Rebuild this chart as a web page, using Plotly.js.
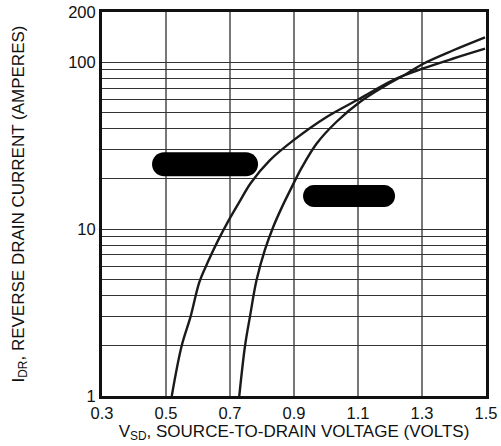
<!DOCTYPE html>
<html><head><meta charset="utf-8">
<script src="https://cdn.plot.ly/plotly-3.0.1.min.js"></script>
<style>html,body{margin:0;padding:0;background:#fff}#chart{width:501px;height:446px}</style>
</head><body><div id="chart"></div>
<script>
// Curve 1 (left)
var vsdA = [0.518, 0.549, 0.577, 0.604, 0.630, 0.662, 0.695, 0.728, 0.765, 0.825, 0.898, 1.002, 1.106, 1.210, 1.304, 1.398, 1.497];
var idrA = [1.0, 2.0, 3.0, 4.8, 6.3, 8.5, 11.2, 14.4, 18.9, 25.9, 34.0, 47.0, 60.6, 78.3, 91.8, 105.3, 120.6];
// Curve 2 (right)
var vsdB = [0.729, 0.747, 0.7625, 0.783, 0.809, 0.835, 0.862, 0.8875, 0.925, 0.971, 1.033, 1.106, 1.179, 1.252, 1.304, 1.398, 1.497];
var idrB = [1.0, 2.0, 3.0, 4.95, 7.5, 10.3, 13.5, 17.0, 23.5, 32.6, 44.0, 57.8, 71.2, 85.3, 98.0, 118.0, 141.0];

var xTicks = [0.3, 0.5, 0.7, 0.9, 1.1, 1.3, 1.5];
var yGrid = [1,2,3,4,5,6,7,8,9,10,20,30,40,50,60,70,80,90,100,200];
var yLabeled = [1, 10, 100, 200];
// redacted label blobs: centre (V, A) and size (px)
var blobV = [0.622, 1.072];
var blobI = [24.5, 15.8];
var blobW = [106, 92];
var blobH = [24, 22];

function stadium(w, h) {
  var r = h / 2, hw = w / 2 - r, k = 0.5523 * r;
  return 'M' + (-hw) + ',' + (-r) + ' L' + hw + ',' + (-r) +
    ' C' + (hw + k) + ',' + (-r) + ' ' + (hw + r) + ',' + (-k) + ' ' + (hw + r) + ',0' +
    ' C' + (hw + r) + ',' + k + ' ' + (hw + k) + ',' + r + ' ' + hw + ',' + r +
    ' L' + (-hw) + ',' + r +
    ' C' + (-hw - k) + ',' + r + ' ' + (-hw - r) + ',' + k + ' ' + (-hw - r) + ',0' +
    ' C' + (-hw - r) + ',' + (-k) + ' ' + (-hw - k) + ',' + (-r) + ' ' + (-hw) + ',' + (-r) + ' Z';
}
var shapes = [];
for (var i = 0; i < blobV.length; i++) {
  shapes.push({type: 'path', xref: 'x', yref: 'y', xsizemode: 'pixel', ysizemode: 'pixel',
    xanchor: blobV[i], yanchor: blobI[i], path: stadium(blobW[i], blobH[i]),
    fillcolor: '#000', line: {width: 0}, layer: 'above'});
}

var font = {family: 'Liberation Sans, Arial, sans-serif', color: '#111'};
var lineStyle = {color: '#1a1a1a', width: 2.4, shape: 'spline', smoothing: 1.0};
var data = [
  {x: vsdA, y: idrA, mode: 'lines', line: lineStyle, hoverinfo: 'skip'},
  {x: vsdB, y: idrB, mode: 'lines', line: lineStyle, hoverinfo: 'skip'}
];
var layout = {
  width: 501, height: 446,
  margin: {l: 102, r: 15, t: 12, b: 50},
  showlegend: false,
  paper_bgcolor: '#fff', plot_bgcolor: '#fff',
  font: Object.assign({size: 16}, font),
  xaxis: {
    range: [0.3, 1.5], tickvals: xTicks, ticktext: xTicks.map(function(v){return v.toFixed(1);}),
    showgrid: true, gridcolor: '#777', gridwidth: 1.5, zeroline: false,
    showline: true, linecolor: '#111', linewidth: 3, mirror: true,
    ticks: '', ticklen: 0, tickfont: {size: 16.5},
    title: {text: 'V<sub>SD</sub>, SOURCE-TO-DRAIN VOLTAGE (VOLTS)', font: {size: 17}, standoff: 0}
  },
  yaxis: {
    type: 'log', range: [0, Math.log10(200)],
    tickvals: yGrid, ticktext: yGrid.map(function(v){return yLabeled.indexOf(v) >= 0 ? String(v) : '';}),
    showgrid: true, gridcolor: '#333', gridwidth: 1, zeroline: false,
    showline: true, linecolor: '#111', linewidth: 3, mirror: true,
    ticks: '', ticklen: 0, tickfont: {size: 16.5},
    title: {text: 'I<sub>DR</sub>, REVERSE DRAIN CURRENT (AMPERES)', font: {size: 17}, standoff: 40}
  },
  shapes: shapes
};
Plotly.newPlot('chart', data, layout, {staticPlot: true, displayModeBar: false});
</script></body></html>
